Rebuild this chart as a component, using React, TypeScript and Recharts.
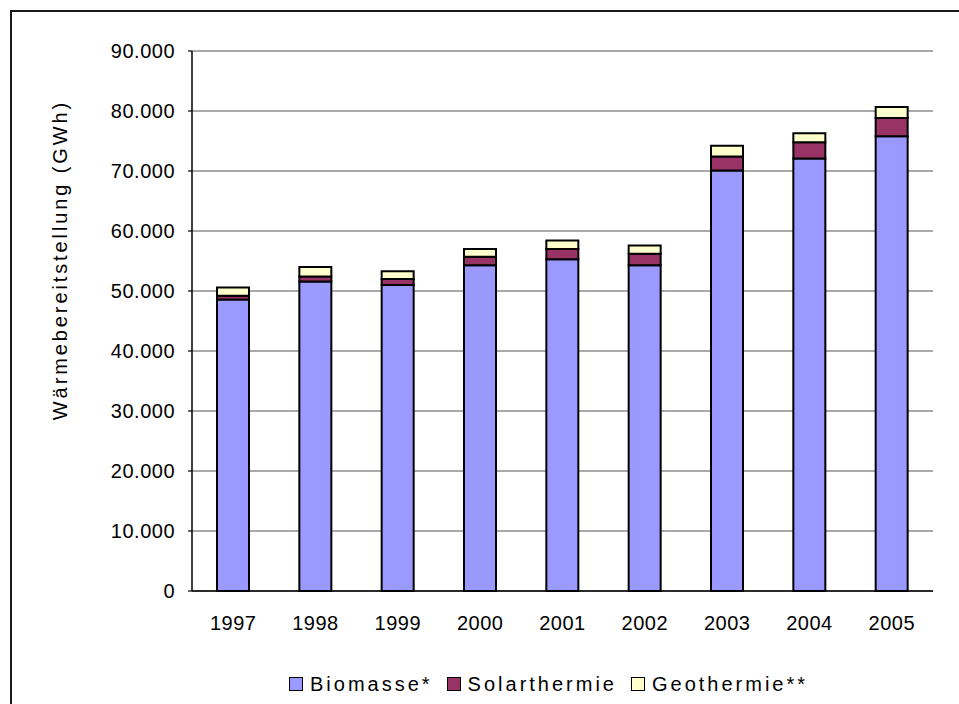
import React from "react";
import {
  Bar,
  BarChart,
  CartesianGrid,
  Label,
  Legend,
  XAxis,
  YAxis
} from "recharts";

// Wärmebereitstellung aus erneuerbaren Energien, GWh
const years = ["1997", "1998", "1999", "2000", "2001", "2002", "2003", "2004", "2005"];
const biomasse = [48600, 51600, 51000, 54300, 55300, 54300, 70100, 72100, 75800];
const solarthermie = [600, 800, 1000, 1400, 1700, 1900, 2300, 2700, 3050];
const geothermie = [1400, 1600, 1300, 1300, 1400, 1400, 1800, 1500, 1800];

const seriesNames = ["Biomasse*", "Solarthermie", "Geothermie**"];
const yTicks = [0, 10000, 20000, 30000, 40000, 50000, 60000, 70000, 80000, 90000];
const boundaryTicks = years.map((_, i) => i).concat(years.length);

const data = years.map((year, i) => ({
  year,
  biomasse: biomasse[i],
  solarthermie: solarthermie[i],
  geothermie: geothermie[i]
}));

const FONT = "Arial, 'Liberation Sans', sans-serif";
const tickStyle = { fill: "#000", fontSize: 20, fontFamily: FONT, letterSpacing: 0.5 };

const formatThousands = (v: number) =>
  v === 0 ? "0" : v.toString().replace(/\B(?=(\d{3})+(?!\d))/g, ".");

function LegendRow(props: any) {
  // keep the stacking order instead of the alphabetical default
  const items = [...(props.payload || [])].sort(
    (a: any, b: any) => seriesNames.indexOf(a.value) - seriesNames.indexOf(b.value)
  );
  return (
    <div
      style={{
        display: "flex",
        alignItems: "center",
        fontFamily: FONT,
        fontSize: 20,
        letterSpacing: 3,
        lineHeight: "24px",
        whiteSpace: "nowrap"
      }}
    >
      {items.map((item: any) => (
        <div key={item.value} style={{ display: "flex", alignItems: "center", marginRight: 14 }}>
          <span
            style={{
              width: 12,
              height: 12,
              background: item.color,
              border: "1px solid #000",
              marginRight: 7,
              display: "inline-block"
            }}
          />
          <span>{item.value}</span>
        </div>
      ))}
    </div>
  );
}

export default function App() {
  return (
    <div
      style={{
        position: "absolute",
        left: 0,
        top: 0,
        width: 959,
        height: 704,
        overflow: "hidden",
        background: "#fff"
      }}
    >
      <div
        style={{
          position: "absolute",
          left: 10,
          top: 10,
          width: 1000,
          height: 1000,
          borderTop: "2px solid #1a1a1a",
          borderLeft: "2px solid #1a1a1a"
        }}
      />
      <BarChart
        width={959}
        height={704}
        data={data}
        margin={{ top: 51, right: 26, bottom: 67, left: 92 }}
      >
        <CartesianGrid vertical={false} stroke="#555" strokeWidth={1.2} yAxisId="left" xAxisId="year" />
        <XAxis
          xAxisId="bounds"
          type="number"
          domain={[0, years.length]}
          ticks={boundaryTicks}
          tick={false}
          tickSize={5}
          height={6}
          axisLine={{ stroke: "#000", strokeWidth: 1.5 }}
          tickLine={{ stroke: "#000", strokeWidth: 1.2 }}
        />
        <XAxis
          xAxisId="year"
          dataKey="year"
          height={40}
          axisLine={false}
          tickLine={false}
          tickSize={0}
          tickMargin={19}
          tick={tickStyle}
          interval={0}
        />
        <XAxis
          xAxisId="top"
          orientation="top"
          type="number"
          domain={[0, years.length]}
          height={0}
          tick={false}
          tickLine={false}
          axisLine={{ stroke: "#808080", strokeWidth: 2 }}
        />
        <YAxis
          yAxisId="left"
          width={100}
          domain={[0, 90000]}
          ticks={yTicks}
          interval={0}
          tickFormatter={formatThousands}
          tickSize={4}
          tickMargin={13}
          tick={tickStyle}
          axisLine={{ stroke: "#000", strokeWidth: 1.5 }}
          tickLine={{ stroke: "#000", strokeWidth: 1.2 }}
        >
          <Label
            content={() => (
              <text
                x={60}
                y={260}
                transform="rotate(-90, 60, 260)"
                textAnchor="middle"
                dominantBaseline="central"
                fontFamily={FONT}
                fontSize={20}
                letterSpacing={2.9}
                fill="#000"
              >
                Wärmebereitstellung (GWh)
              </text>
            )}
          />
        </YAxis>
        <YAxis
          yAxisId="right"
          orientation="right"
          width={0}
          domain={[0, 90000]}
          tick={false}
          tickLine={false}
          axisLine={{ stroke: "#808080", strokeWidth: 2 }}
        />
        <Legend
          layout="horizontal"
          align="center"
          verticalAlign="middle"
          content={<LegendRow />}
          wrapperStyle={{ left: 289, top: 672, width: "auto" }}
        />
        <Bar
          xAxisId="year"
          yAxisId="left"
          dataKey="biomasse"
          name={seriesNames[0]}
          stackId="w"
          fill="#9999FF"
          stroke="#000"
          strokeWidth={2}
          barSize={32}
          isAnimationActive={false}
        />
        <Bar
          xAxisId="year"
          yAxisId="left"
          dataKey="solarthermie"
          name={seriesNames[1]}
          stackId="w"
          fill="#993366"
          stroke="#000"
          strokeWidth={2}
          barSize={32}
          isAnimationActive={false}
        />
        <Bar
          xAxisId="year"
          yAxisId="left"
          dataKey="geothermie"
          name={seriesNames[2]}
          stackId="w"
          fill="#FFFFCC"
          stroke="#000"
          strokeWidth={2}
          barSize={32}
          isAnimationActive={false}
        />
      </BarChart>
    </div>
  );
}
